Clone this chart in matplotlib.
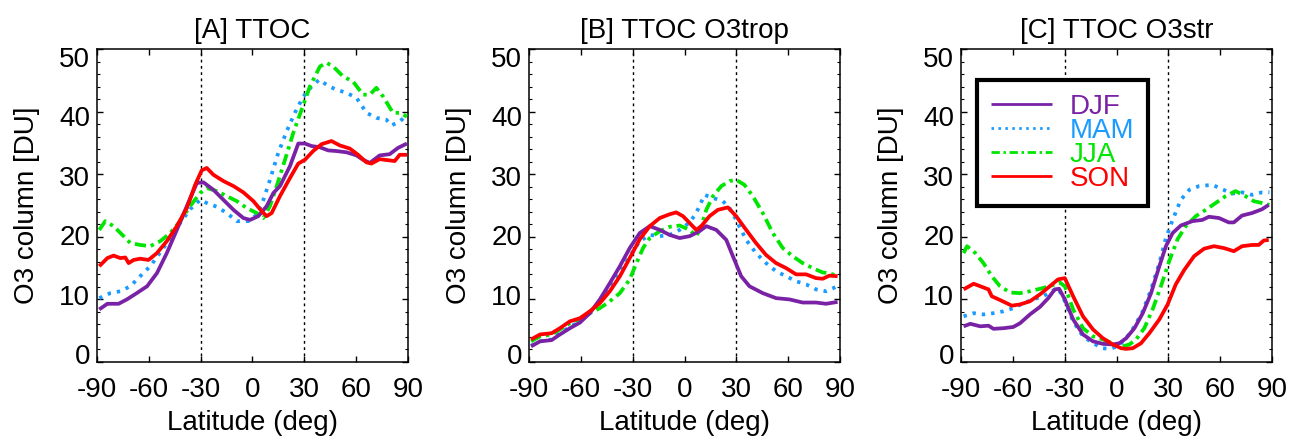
import matplotlib
matplotlib.use("Agg")
import matplotlib.pyplot as plt
from matplotlib.transforms import ScaledTranslation

plt.rcParams['font.family'] = ['Liberation Sans', 'DejaVu Sans']
plt.rcParams['axes.unicode_minus'] = False

# ---------------- data ----------------
seasons = ["DJF", "MAM", "JJA", "SON"]
colors = {"DJF": "#7A22A6", "MAM": "#1A9BFF", "JJA": "#00E600", "SON": "#FF0000"}
titles = ["[A] TTOC", "[B] TTOC O3trop", "[C] TTOC O3str"]
xticks = [-90, -60, -30, 0, 30, 60, 90]
yticks = [0, 10, 20, 30, 40, 50]

# Panel A: TTOC
a_djf_lat = [-88.7, -84, -77.5, -72.7, -67, -61, -55.3, -49.6, -43.8, -38, -32.2, -28.4, -22.6, -16.8, -11, -5.3, -1.4, 3.4, 8.2, 12.1, 15.9, 21.7, 26.5, 30.3, 34.2, 39, 43.8, 48.6, 54.4, 60.2, 64, 67.9, 73.6, 79.4, 84.2, 89.4]
a_djf = [8.4, 9.3, 9.3, 10.0, 11.0, 12.1, 14.2, 17.4, 21.1, 24.9, 28.6, 28.7, 27.5, 25.9, 24.3, 23.0, 22.7, 23.3, 24.9, 27.0, 28.1, 31.3, 34.9, 34.9, 34.5, 34.3, 33.8, 33.7, 33.5, 33.0, 32.3, 31.8, 33.0, 33.2, 34.2, 34.9]
a_mam_lat = [-88.7, -82.3, -76.5, -70.7, -65, -59.2, -53.4, -47.6, -41.9, -36.1, -30.3, -26.5, -20.7, -14.9, -9.1, -2.4, 2.4, 6.3, 10.1, 14.9, 19.7, 24.5, 29.4, 34.2, 38.6, 43.8, 48.6, 54.4, 60.2, 66, 71.7, 77.5, 80.4, 85.2, 89.4]
a_mam = [10.2, 11.0, 11.3, 12.1, 13.7, 15.3, 17.5, 19.8, 22.2, 24.4, 25.9, 25.4, 24.8, 23.8, 22.5, 22.5, 23.5, 25.9, 29.1, 33.4, 36.8, 39.8, 42.4, 44.0, 45.1, 44.1, 43.5, 43.0, 42.2, 39.8, 39.0, 38.7, 37.8, 38.4, 39.5]
a_jja_lat = [-88.7, -85.2, -80.4, -74.6, -70.7, -65, -59.2, -53.4, -47.6, -41.9, -36.1, -30.3, -26.5, -20.7, -14.9, -9.1, -3.4, 2.4, 6.3, 10.1, 14, 18.8, 23.6, 28.4, 33.2, 39, 42.8, 46.7, 52.5, 58.2, 64, 67.9, 71.7, 75.6, 81.3, 85.2, 89.4]
a_jja = [21.1, 22.5, 21.7, 20.1, 19.0, 18.7, 18.5, 19.3, 20.6, 22.5, 24.9, 27.0, 27.8, 27.3, 26.5, 25.7, 24.6, 23.8, 23.0, 24.9, 28.1, 32.3, 36.6, 40.3, 44.0, 47.2, 47.8, 47.2, 45.6, 44.8, 42.7, 42.7, 43.8, 42.4, 39.8, 39.8, 39.2]
a_son_lat = [-88.7, -84, -80.4, -76.5, -73.6, -71.7, -68.8, -65, -60.2, -55.3, -49.6, -43.8, -38, -33.2, -29.4, -26.5, -22.6, -16.8, -11, -5.3, 0.5, 5.3, 8.2, 11.1, 15.9, 21.7, 26.5, 30.3, 35.1, 40, 45.7, 50.5, 56.3, 61.1, 65.9, 68.8, 73.6, 79.4, 82.3, 85.2, 89.4]
a_son = [15.3, 16.6, 17.0, 16.6, 16.7, 15.8, 16.3, 16.5, 16.3, 17.4, 19.3, 21.7, 24.6, 28.3, 30.6, 31.0, 29.9, 28.9, 28.1, 27.1, 25.7, 24.1, 23.3, 23.8, 26.5, 29.4, 31.7, 32.3, 33.7, 34.8, 35.3, 34.6, 34.1, 33.1, 31.9, 31.7, 32.4, 32.2, 32.1, 33.1, 33.1]

# Panel B: TTOC O3trop
b_djf_lat = [-88.8, -83.6, -76.9, -72.1, -66.3, -60.5, -54.8, -49, -43.2, -37.4, -31.7, -25.9, -20.1, -14.3, -8.6, -2.8, 3, 8.7, 12.6, 18.4, 24.2, 28, 32.8, 37.6, 45.3, 53, 60.7, 68.4, 76.1, 81.9, 88.6]
b_djf = [2.5, 3.3, 3.5, 4.4, 5.4, 6.3, 7.8, 10.0, 12.6, 15.3, 18.2, 20.6, 21.7, 21.1, 20.3, 19.8, 20.1, 20.9, 21.7, 21.1, 19.5, 16.9, 13.7, 12.1, 11.0, 10.2, 10.0, 9.5, 9.5, 9.3, 9.6]
b_mam_lat = [-88.8, -83.6, -76.9, -72.1, -66.3, -60.5, -54.8, -49, -43.2, -37.4, -31.7, -25.9, -20.1, -14.3, -8.6, -2.8, 3, 6.8, 11.6, 16.5, 22.2, 26.1, 29.9, 35.7, 41.4, 47.2, 53, 58.8, 64.6, 70.4, 76.1, 81.9, 88.6]
b_mam = [2.6, 3.3, 3.6, 4.6, 5.6, 6.5, 7.8, 9.7, 11.6, 14.3, 16.9, 19.3, 20.3, 20.1, 20.3, 21.1, 22.3, 23.8, 26.7, 26.2, 25.7, 24.6, 22.7, 19.5, 17.4, 15.8, 14.5, 13.7, 12.9, 12.4, 11.6, 11.3, 12.1]
b_jja_lat = [-88.8, -83.6, -76.9, -72.1, -66.3, -60.5, -54.8, -49, -43.2, -37.4, -31.7, -27.8, -24, -20.1, -14.3, -8.6, -2.8, 3, 6.8, 9.7, 12.6, 16.5, 21.3, 26.1, 29.9, 34.7, 39.5, 45.3, 51.1, 56.9, 62.6, 68.4, 74.2, 80, 83.9, 88.6]
b_jja = [3.3, 4.1, 4.4, 5.2, 6.2, 6.9, 7.8, 8.6, 9.7, 11.0, 13.2, 15.8, 18.2, 19.8, 20.9, 21.6, 21.8, 21.1, 20.1, 21.7, 24.3, 26.5, 28.1, 28.9, 29.1, 28.3, 26.5, 23.8, 20.6, 18.2, 16.9, 15.8, 15.0, 14.3, 14.2, 13.7]
b_son_lat = [-88.8, -83.6, -76.9, -72.1, -66.3, -60.5, -54.8, -49, -43.2, -37.4, -31.7, -25.9, -20.1, -14.3, -8.6, -4.8, -0.9, 3, 6.8, 9.7, 14.5, 19.3, 25.1, 29.9, 35.7, 41.4, 47.2, 53, 58.8, 64.6, 70.4, 76.1, 80, 83.9, 88.6]
b_son = [3.6, 4.4, 4.6, 5.4, 6.5, 7.0, 8.1, 9.4, 11.3, 13.7, 16.6, 19.6, 21.7, 23.0, 23.6, 23.9, 23.3, 22.2, 21.1, 21.7, 23.3, 24.3, 24.7, 23.3, 21.1, 19.0, 17.1, 15.8, 15.0, 14.0, 14.0, 13.4, 13.3, 13.8, 13.7]

# Panel C: TTOC O3str
c_djf_lat = [-88.5, -84.6, -78.9, -74.1, -71.2, -65.4, -59.7, -55.8, -50.1, -44.3, -39.5, -35.7, -33.2, -29.9, -25.1, -19.4, -13.6, -7.9, -2.1, 1.7, 5.6, 10.4, 15.2, 20, 24.8, 28.6, 32.5, 37.2, 43.9, 49.7, 53.5, 59.3, 65, 67.9, 72.7, 78.5, 84.2, 88.1]
c_djf = [5.7, 6.1, 5.7, 5.8, 5.3, 5.4, 5.6, 6.2, 7.6, 8.8, 10.2, 11.6, 11.7, 10.0, 6.8, 4.4, 3.3, 2.9, 2.8, 3.0, 3.8, 5.4, 7.8, 11.0, 15.3, 18.5, 20.6, 21.8, 22.5, 22.7, 23.2, 23.0, 22.3, 22.3, 23.4, 23.8, 24.4, 25.1]
c_mam_lat = [-88.5, -82.7, -77, -71.2, -65.4, -59.7, -53.9, -48.2, -42.4, -37.6, -33.8, -29.9, -25.1, -19.4, -13.6, -7.9, -4, 0.8, 5.6, 10.4, 15.2, 20, 24.8, 28.6, 32.5, 37.2, 42.1, 47.8, 55.5, 61.2, 67, 72.7, 78.5, 84.2, 88.5]
c_mam = [7.3, 7.8, 7.6, 7.8, 8.1, 8.6, 9.4, 10.0, 10.5, 11.3, 11.8, 9.7, 6.5, 4.1, 3.0, 2.2, 2.1, 2.5, 3.8, 5.7, 8.1, 11.6, 15.8, 19.8, 22.7, 25.9, 27.5, 28.1, 28.3, 27.6, 26.9, 27.1, 26.7, 27.1, 27.1]
c_jja_lat = [-88.5, -86.5, -81.7, -77, -72.2, -67.4, -61.6, -55.8, -50.1, -44.3, -38.6, -32.8, -29.9, -25.1, -19.4, -13.6, -7.9, -2.1, 3.6, 7.5, 11.3, 16.1, 20.9, 25.7, 30.5, 35.3, 40.1, 45.9, 51.6, 57.4, 63.2, 68.9, 74.6, 79.4, 84.2, 88.5]
c_jja = [17.4, 18.5, 17.4, 15.8, 13.7, 12.1, 11.1, 11.0, 11.3, 11.7, 12.1, 12.7, 12.1, 8.4, 5.4, 4.1, 3.6, 3.0, 2.5, 2.8, 3.6, 5.4, 8.4, 12.1, 16.1, 19.6, 21.7, 23.3, 24.3, 25.4, 26.5, 27.3, 26.5, 25.7, 25.4, 25.1]
c_son_lat = [-88.5, -82.7, -77.9, -74.1, -72.2, -67.4, -60.6, -55.8, -50.1, -44.3, -38.6, -33.8, -29.9, -25.1, -19.4, -13.6, -7.9, -2.1, 2.7, 5.6, 9.4, 14.2, 19, 24.8, 29.6, 34.3, 39.2, 44.9, 50.7, 56.4, 62.2, 67.9, 72.7, 78.5, 82.3, 85.2, 88.1]
c_son = [11.6, 12.5, 12.0, 11.6, 10.5, 9.9, 9.0, 9.2, 9.7, 10.8, 12.1, 13.2, 13.4, 10.5, 7.3, 5.2, 3.8, 2.8, 2.2, 2.1, 2.2, 3.0, 4.6, 6.8, 9.2, 12.4, 14.7, 16.9, 18.1, 18.5, 18.2, 17.7, 18.5, 18.7, 18.7, 19.4, 19.5]

panels = [
    {"DJF": (a_djf_lat, a_djf), "MAM": (a_mam_lat, a_mam), "JJA": (a_jja_lat, a_jja), "SON": (a_son_lat, a_son)},
    {"DJF": (b_djf_lat, b_djf), "MAM": (b_mam_lat, b_mam), "JJA": (b_jja_lat, b_jja), "SON": (b_son_lat, b_son)},
    {"DJF": (c_djf_lat, c_djf), "MAM": (c_mam_lat, c_mam), "JJA": (c_jja_lat, c_jja), "SON": (c_son_lat, c_son)},
]

# ---------------- styles ----------------
LW = 2.7
styles = {
    "DJF": dict(linestyle="-"),
    "MAM": dict(linestyle=(0, (0.9, 1.6))),
    "JJA": dict(linestyle=(0, (3.0, 1.3, 0.9, 1.3))),
    "SON": dict(linestyle="-"),
}
order = ["MAM", "JJA", "DJF", "SON"]
FS = 20

W, H = 1302, 436
fig = plt.figure(figsize=(W / 100, H / 100), dpi=100)
lefts = [97, 529, 961]
ax_w, ax_top, ax_bot = 311, 49, 362

for i, (left, data) in enumerate(zip(lefts, panels)):
    ax = fig.add_axes([left / W, (H - ax_bot) / H, ax_w / W, (ax_bot - ax_top) / H])
    ax.set_xlim(-90, 90)
    ax.set_ylim(0, 50)
    ax.axvline(-30, color="black", lw=1.0, linestyle=(0, (2, 2.5)), zorder=1)
    ax.axvline(30, color="black", lw=1.0, linestyle=(0, (2, 2.5)), zorder=1)
    handles = {}
    for s in order:
        lat, val = data[s]
        (ln,) = ax.plot(lat, val, color=colors[s], lw=LW, solid_capstyle="butt",
                        dash_capstyle="butt", zorder=3, **styles[s])
        handles[s] = ln
    ax.set_xticks(xticks)
    ax.set_yticks(yticks)
    ax.set_yticks(range(0, 51, 2), minor=True)
    ax.tick_params(axis="both", which="major", direction="in", length=4.5, width=1.0,
                   top=True, right=True, labelsize=FS)
    ax.tick_params(axis="x", which="major", pad=11)
    ax.tick_params(axis="y", which="major", pad=5)
    ax.tick_params(axis="y", which="minor", direction="in", length=2.2, width=0.8,
                   left=True, right=True)
    for sp in ax.spines.values():
        sp.set_linewidth(1.1)
    # IDL-style: y tick labels pulled inward toward the middle of the range
    for tick, v in zip(ax.yaxis.get_major_ticks(), yticks):
        dy = -8.0 * (v - 25) / 25 / 100.0  # inches
        tick.label1.set_transform(tick.label1.get_transform()
                                  + ScaledTranslation(0, dy, fig.dpi_scale_trans))
    ax.set_title(titles[i], fontsize=FS, pad=8)
    ax.set_xlabel("Latitude (deg)", fontsize=FS, labelpad=5)
    ax.set_ylabel("O3 column [DU]", fontsize=FS, labelpad=14)
    if i == 2:
        leg = ax.legend([handles[s] for s in seasons], seasons, loc="upper left",
                        bbox_to_anchor=(0.051, 0.901), fontsize=FS, labelcolor="linecolor",
                        handlelength=2.2, handletextpad=0.65, labelspacing=-0.07,
                        borderpad=0.5, borderaxespad=0, fancybox=False, framealpha=1,
                        edgecolor="black")
        leg.get_frame().set_linewidth(3.0)
        for h in leg.get_lines():
            h.set_linewidth(2.0)

fig.savefig("out.png", dpi=100)
